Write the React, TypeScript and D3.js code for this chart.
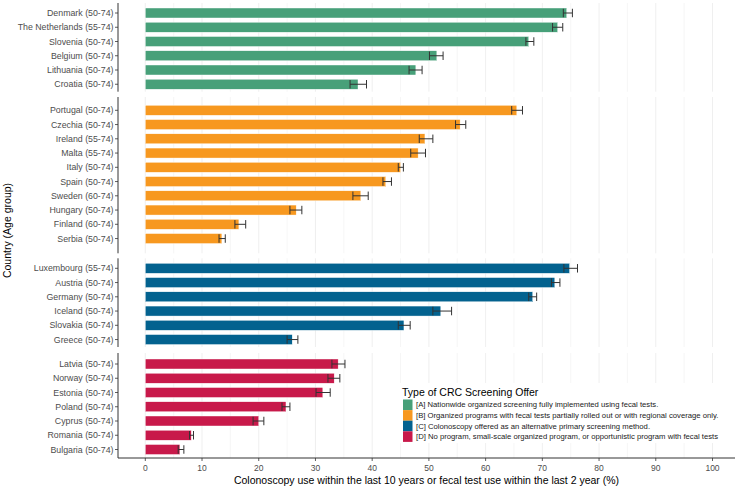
import React from "react";
import * as d3 from "d3";

const W = 740;
const H = 487;

const legendTitle = "Type of CRC Screening Offer";
const groupLabels = [
  "[A] Nationwide organized screening fully implemented using fecal tests.",
  "[B] Organized programs with fecal tests partially rolled out or with regional coverage only.",
  "[C] Colonoscopy offered as an alternative primary screening method.",
  "[D] No program, small-scale organized program, or opportunistic program with fecal tests",
];
const groupColors = ["#47a079", "#f7981f", "#03628f", "#c8194a"];

const countriesA = ["Denmark (50-74)", "The Netherlands (55-74)", "Slovenia (50-74)", "Belgium (50-74)", "Lithuania (50-74)", "Croatia (50-74)"];
const valuesA = [74.3, 72.7, 67.6, 51.4, 47.7, 37.5];
const lowA = [73.7, 71.8, 67.1, 50.1, 46.5, 36.1];
const highA = [75.3, 73.6, 68.5, 52.5, 48.8, 39.0];

const countriesB = ["Portugal (50-74)", "Czechia (50-74)", "Ireland (55-74)", "Malta (55-74)", "Italy (50-74)", "Spain (50-74)", "Sweden (60-74)", "Hungary (50-74)", "Finland (60-74)", "Serbia (50-74)"];
const valuesB = [65.5, 55.5, 49.3, 48.1, 45.0, 42.4, 38.0, 26.6, 16.5, 13.5];
const lowB = [64.6, 54.7, 48.3, 46.8, 44.6, 41.9, 36.6, 25.5, 15.8, 13.0];
const highB = [66.5, 56.5, 50.7, 49.4, 45.5, 43.4, 39.3, 27.6, 17.7, 14.1];

const countriesC = ["Luxembourg (55-74)", "Austria (50-74)", "Germany (50-74)", "Iceland (50-74)", "Slovakia (50-74)", "Greece (50-74)"];
const valuesC = [74.8, 72.2, 68.3, 52.1, 45.6, 25.9];
const lowC = [73.8, 71.6, 67.6, 50.7, 44.6, 25.0];
const highC = [76.2, 73.1, 69.0, 54.0, 46.7, 26.9];

const countriesD = ["Latvia (50-74)", "Norway (50-74)", "Estonia (50-74)", "Poland (50-74)", "Cyprus (50-74)", "Romania (50-74)", "Bulgaria (50-74)"];
const valuesD = [34.0, 33.3, 31.3, 24.8, 20.0, 8.1, 6.1];
const lowD = [32.9, 32.2, 30.1, 24.1, 19.0, 7.8, 5.8];
const highD = [35.2, 34.3, 32.6, 25.5, 20.9, 8.5, 6.8];

const xTicks = [0, 10, 20, 30, 40, 50, 60, 70, 80, 90, 100];
const xMinor = [5, 15, 25, 35, 45, 55, 65, 75, 85, 95];
const xTitle = "Colonoscopy use within the last 10 years or fecal test use within the last 2 year (%)";
const yTitle = "Country (Age group)";

const groups = [
  { countries: countriesA, values: valuesA, low: lowA, high: highA },
  { countries: countriesB, values: valuesB, low: lowB, high: highB },
  { countries: countriesC, values: valuesC, low: lowC, high: highC },
  { countries: countriesD, values: valuesD, low: lowD, high: highD },
];

// layout
const panelTops = [3, 97, 258.3, 353];
const panelBottoms = [91.7, 253.3, 347, 458];
const firstCenters = [13, 110.3, 268.3, 364];
const STEP = 14.25;
const AXIS_X = 118;
const RIGHT = 735;

const FONT = "'Liberation Sans', Arial, sans-serif";

export default function App() {
  const x = d3.scaleLinear().domain([0, 100]).range([145.3, 712.5]);

  return (
    <svg width={W} height={H} style={{ display: "block", position: "absolute", left: 0, top: 0 }} fontFamily={FONT}>
      <rect x={0} y={0} width={W} height={H} fill="#ffffff" />
      {groups.map((g, gi) => {
        const n = g.countries.length;
        const r0 = firstCenters[gi] - STEP / 2;
        const y = d3
          .scaleBand<string>()
          .domain(g.countries)
          .range([r0, r0 + n * STEP])
          .paddingInner(0.3)
          .paddingOuter(0.15);
        const top = panelTops[gi];
        const bottom = panelBottoms[gi];
        const bw = y.bandwidth();
        return (
          <g key={gi}>
            {xMinor.map((t) => (
              <line key={"m" + t} x1={x(t)} x2={x(t)} y1={top} y2={bottom} stroke="#f0f0f0" strokeWidth={0.6} />
            ))}
            {xTicks.map((t) => (
              <line key={"M" + t} x1={x(t)} x2={x(t)} y1={top} y2={bottom} stroke="#ebebeb" strokeWidth={0.8} />
            ))}
            {g.countries.map((c, i) => (
              <rect
                key={c}
                x={x(0)}
                y={y(c)!}
                width={x(g.values[i]) - x(0)}
                height={bw}
                fill={groupColors[gi]}
                stroke="#ffffff"
                strokeWidth={0.4}
              />
            ))}
            {g.countries.map((c, i) => {
              const cy = y(c)! + bw / 2;
              const h = bw * 0.85;
              return (
                <g key={"e" + c} stroke="#333333" strokeWidth={1}>
                  <line x1={x(g.low[i])} x2={x(g.high[i])} y1={cy} y2={cy} />
                  <line x1={x(g.low[i])} x2={x(g.low[i])} y1={cy - h / 2} y2={cy + h / 2} />
                  <line x1={x(g.high[i])} x2={x(g.high[i])} y1={cy - h / 2} y2={cy + h / 2} />
                </g>
              );
            })}
            <line x1={AXIS_X} x2={AXIS_X} y1={top} y2={bottom} stroke="#333333" strokeWidth={1} />
            {g.countries.map((c) => {
              const cy = y(c)! + bw / 2;
              return (
                <g key={"t" + c}>
                  <line x1={AXIS_X - 3} x2={AXIS_X} y1={cy} y2={cy} stroke="#333333" strokeWidth={0.8} />
                  <text x={AXIS_X - 4.5} y={cy} dy="0.35em" textAnchor="end" fontSize={8.8} fill="#4d4d4d">
                    {c}
                  </text>
                </g>
              );
            })}
          </g>
        );
      })}

      {/* x axis */}
      <line x1={AXIS_X} x2={RIGHT} y1={458} y2={458} stroke="#333333" strokeWidth={1} />
      {xTicks.map((t) => (
        <g key={"xt" + t}>
          <line x1={x(t)} x2={x(t)} y1={458} y2={461} stroke="#333333" strokeWidth={0.8} />
          <text x={x(t)} y={471} textAnchor="middle" fontSize={8.5} fill="#4d4d4d">
            {t}
          </text>
        </g>
      ))}
      <text x={(AXIS_X + RIGHT) / 2} y={484} textAnchor="middle" fontSize={10.5} fill="#000000">
        {xTitle}
      </text>
      <text transform={`translate(11, ${(panelTops[0] + 458) / 2}) rotate(-90)`} textAnchor="middle" fontSize={10.5} fill="#000000">
        {yTitle}
      </text>

      {/* legend */}
      <g>
        <rect x={398} y={383} width={334} height={60} fill="#ffffff" />
        <text x={402} y={396} fontSize={10.5} fill="#000000">
          {legendTitle}
        </text>
        {groupLabels.map((lab, i) => (
          <g key={lab}>
            <rect x={403} y={399.5 + i * 10.6} width={9.5} height={10.6} fill={groupColors[i]} />
            <text x={416} y={404.8 + i * 10.6} dy="0.35em" fontSize={7.7} fill="#1a1a1a">
              {lab}
            </text>
          </g>
        ))}
      </g>
    </svg>
  );
}
